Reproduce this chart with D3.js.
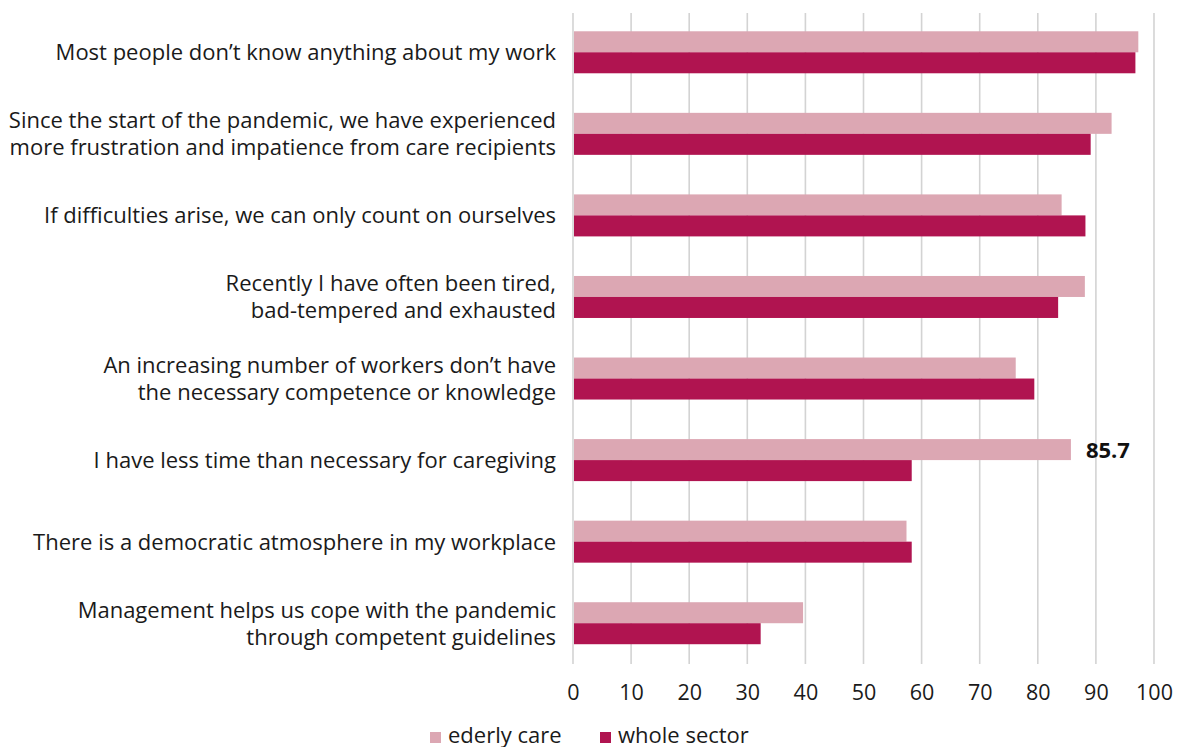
<!DOCTYPE html>
<html>
<head>
<meta charset="utf-8">
<script src="https://cdn.jsdelivr.net/npm/d3@7"></script>
<style>
  html, body { margin: 0; padding: 0; background: #fff; }
  svg { display: block; font-family: "Open Sans", "Noto Sans", sans-serif; }
</style>
</head>
<body>
<svg id="chart" width="1177" height="747"></svg>
<script>
// Survey statements (each entry is a list of label lines)
const categories = [
  ["Most people don\u2019t know anything about my work"],
  ["Since the start of the pandemic, we have experienced", "more frustration and impatience from care recipients"],
  ["If difficulties arise, we can only count on ourselves"],
  ["Recently I have often been tired,", "bad-tempered and exhausted"],
  ["An increasing number of workers don\u2019t have", "the necessary competence or knowledge"],
  ["I have less time than necessary for caregiving"],
  ["There is a democratic atmosphere in my workplace"],
  ["Management helps us cope with the pandemic", "through competent guidelines"]
];
const seriesNames = ["ederly care", "whole sector"];
const elderlyCare = [97.3, 92.7, 84.1, 88.1, 76.2, 85.7, 57.4, 39.6];
const wholeSector = [96.8, 89.1, 88.2, 83.5, 79.4, 58.3, 58.3, 32.3];
const xTicks = [0, 10, 20, 30, 40, 50, 60, 70, 80, 90, 100];
const labelledValue = { series: 0, index: 5 }; // value printed next to its bar

const colors = ["#dca7b3", "#b01450"];

const svg = d3.select("#chart");

const x = d3.scaleLinear().domain([0, 100]).range([573, 1154]);
const y = d3.scaleBand().domain(d3.range(categories.length)).range([11.5, 664]);
const barH = 21;

// vertical gridlines, running slightly below the plot as tick stubs
const gridTop = 13, gridBottom = 664;
svg.append("g").selectAll("line")
  .data(xTicks)
  .join("line")
  .attr("x1", d => x(d)).attr("x2", d => x(d))
  .attr("y1", gridTop).attr("y2", gridBottom)
  .attr("stroke", "#d3d3d3")
  .attr("stroke-width", 1.6);

// bars: light series on top, dark series below, per statement
const series = [elderlyCare, wholeSector];
series.forEach((vals, si) => {
  svg.append("g").selectAll("rect")
    .data(vals)
    .join("rect")
    .attr("x", x(0) + 1)
    .attr("y", (d, i) => y(i) + y.bandwidth() / 2 - barH + si * barH)
    .attr("width", d => x(d) - x(0) - 1)
    .attr("height", barH)
    .attr("fill", colors[si]);
});

// value label
{
  const v = series[labelledValue.series][labelledValue.index];
  svg.append("text")
    .attr("x", x(v) + 15)
    .attr("y", y(labelledValue.index) + y.bandwidth() / 2 - barH / 2 + 8)
    .attr("font-size", 22)
    .attr("font-weight", 700)
    .attr("fill", "#111")
    .text(v.toFixed(1));
}

// x axis labels
const xAxis = d3.axisBottom(x).tickValues(xTicks).tickSize(0).tickPadding(0);
const gx = svg.append("g").attr("transform", "translate(0,680)").call(xAxis);
gx.select(".domain").remove();
gx.selectAll("text")
  .attr("font-family", "\"Open Sans\", sans-serif")
  .attr("font-size", 21.5)
  .attr("fill", "#1a1a1a")
  .attr("dy", "0.95em");

// category labels
const labelG = svg.append("g");
categories.forEach((lines, i) => {
  const cy = y(i) + y.bandwidth() / 2;
  const lh = 27;
  const t = labelG.append("text")
    .attr("text-anchor", "end")
    .attr("font-size", 22)
    .attr("fill", "#1a1a1a");
  lines.forEach((ln, k) => {
    t.append("tspan")
      .attr("x", 556)
      .attr("y", cy + 8 + (k - (lines.length - 1) / 2) * lh)
      .text(ln);
  });
});

// legend
const legend = svg.append("g");
const legendX = [430, 600];
seriesNames.forEach((name, i) => {
  legend.append("rect")
    .attr("x", legendX[i]).attr("y", 732)
    .attr("width", 11).attr("height", 11)
    .attr("fill", colors[i]);
  legend.append("text")
    .attr("x", legendX[i] + 18).attr("y", 742.5)
    .attr("font-size", 22)
    .attr("fill", "#1a1a1a")
    .text(name);
});
</script>
</body>
</html>
